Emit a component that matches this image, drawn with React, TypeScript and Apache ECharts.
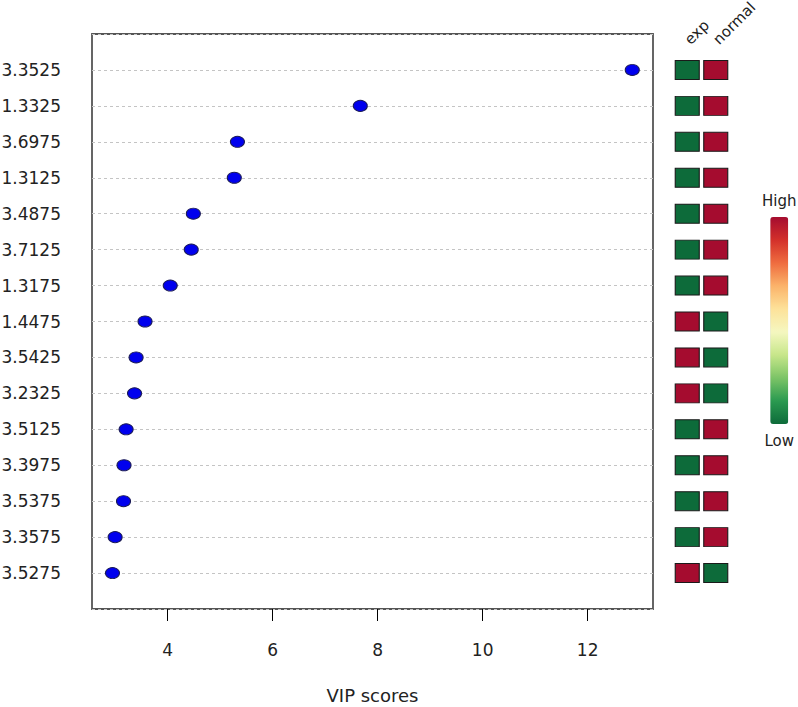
import React, { useEffect, useRef } from "react";
import * as echarts from "echarts";

const features = ["3.3525", "1.3325", "3.6975", "1.3125", "3.4875", "3.7125", "1.3175", "1.4475", "3.5425", "3.2325", "3.5125", "3.3975", "3.5375", "3.3575", "3.5275"];
const vipScores = [12.85, 7.67, 5.33, 5.27, 4.49, 4.45, 4.05, 3.57, 3.40, 3.37, 3.21, 3.17, 3.16, 3.0, 2.95];
const groups = ["exp", "normal"];
const expLevel = [0, 0, 0, 0, 0, 0, 0, 1, 1, 1, 0, 0, 0, 0, 1];
const normalLevel = [1, 1, 1, 1, 1, 1, 1, 0, 0, 0, 1, 1, 1, 1, 0];
const xTicks = [4, 6, 8, 10, 12];
const legendText = ["High", "Low"];
const palette = ["#0d6b3a", "#2a9a50", "#7cc466", "#c7e68a", "#f5f7c0", "#fde29a", "#fbb36a", "#ef6c3f", "#d3302a", "#a50c2f"];

const FONT = "'DejaVu Sans', 'Liberation Sans', Arial, sans-serif";

export default function App() {
  const ref = useRef<HTMLDivElement>(null);
  useEffect(() => {
    if (!ref.current) return;
    const chart = echarts.init(ref.current, null, { renderer: "svg" });
    const rows = features.map((_, i) => i + 1);
    const heatData: number[][] = [];
    rows.forEach((r, i) => {
      heatData.push([0, r, expLevel[i]]);
      heatData.push([1, r, normalLevel[i]]);
    });
    chart.setOption({
      animation: false,
      textStyle: { fontFamily: FONT },
      grid: [
        { left: 92, right: 145, top: 34, bottom: 98, show: true, borderColor: "#555", borderWidth: 1.8, backgroundColor: "transparent", outerBoundsMode: "none", containLabel: false },
        { left: 673, width: 57, top: 46, bottom: 98, outerBoundsMode: "none", containLabel: false },
      ],
      xAxis: [
        {
          type: "value", gridIndex: 0, min: 2.56, max: 13.245,
          axisLine: { show: false, onZero: false },
          axisTick: { show: true, customValues: xTicks, length: 12, lineStyle: { color: "#000", width: 1 } },
          axisLabel: { customValues: xTicks, fontSize: 17, color: "#222", margin: 32 },
          splitLine: { show: false },
          name: "VIP scores", nameLocation: "middle", nameGap: 77,
          nameTextStyle: { fontSize: 18, color: "#222" },
        },
        {
          type: "category", gridIndex: 1, data: groups, position: "top",
          axisLine: { show: false, onZero: false }, axisTick: { show: false },
          axisLabel: { rotate: -45, fontSize: 15, color: "#222", margin: 4 },
        },
      ],
      yAxis: [
        {
          type: "value", gridIndex: 0, min: 0, max: 16, interval: 1, inverse: true,
          axisLine: { show: false, onZero: false }, axisTick: { show: false },
          axisLabel: { customValues: rows, fontSize: 17, color: "#222", margin: 31, formatter: (v: number) => features[v - 1] ?? "" },
          splitLine: { show: true, lineStyle: { color: "#c4c4c4", type: [3, 3], width: 1 } },
        },
        { type: "value", gridIndex: 1, min: 0.334, max: 16, inverse: true, show: false },
      ],
      visualMap: {
        type: "continuous", min: 0, max: 1, dimension: 2, seriesIndex: 1,
        orient: "vertical", left: 747, top: 178, itemWidth: 18, itemHeight: 207,
        text: legendText, textGap: 9, calculable: false,
        textStyle: { fontSize: 15, color: "#222" },
        inRange: { color: palette },
      },
      series: [
        {
          type: "scatter", xAxisIndex: 0, yAxisIndex: 0,
          data: vipScores.map((v, i) => [v, rows[i]]),
          symbol: "circle", symbolSize: [14, 11],
          itemStyle: { color: "#0000ee", borderColor: "#1b1b55", borderWidth: 1, opacity: 1 },
        },
        {
          type: "scatter", xAxisIndex: 1, yAxisIndex: 1,
          data: heatData,
          symbol: "rect", symbolSize: [24, 19],
          itemStyle: { borderColor: "#1a1a1a", borderWidth: 1, opacity: 1 },
        },
      ],
    });
    return () => chart.dispose();
  }, []);
  return <div ref={ref} style={{ width: 798, height: 707, position: "absolute", left: 0, top: 0 }} />;
}
